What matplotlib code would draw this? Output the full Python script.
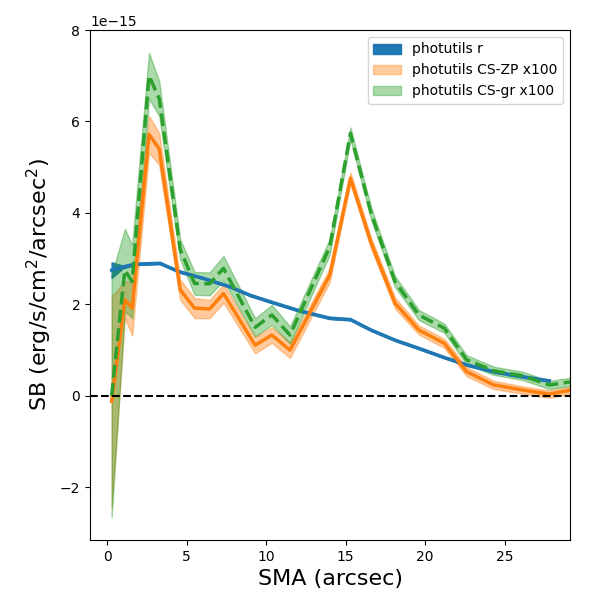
import numpy as np
import matplotlib
matplotlib.use('Agg')
import matplotlib.pyplot as plt

# photutils r profile (units of 1e-15)
sma_r = np.array([0.29, 1.0, 1.76, 3.33, 4.5, 6.06, 7.7, 9.0, 10.25, 12.1,
                  14.0, 15.3, 16.6, 18.1, 19.6, 21.2, 22.6, 24.3, 26.1, 27.8])
sb_r = np.array([2.75, 2.82, 2.88, 2.9, 2.72, 2.57, 2.39, 2.2, 2.06, 1.86,
                 1.70, 1.67, 1.44, 1.22, 1.04, 0.84, 0.68, 0.53, 0.42, 0.33])
err_r = np.array([0.17, 0.03, 0.02, 0.02, 0.02, 0.02, 0.02, 0.02, 0.02, 0.02,
                  0.02, 0.02, 0.02, 0.02, 0.02, 0.02, 0.02, 0.02, 0.02, 0.02])

# CS profiles x100
sma = np.array([0.29, 1.12, 1.58, 2.64, 3.28, 4.6, 5.5, 6.45, 7.32, 9.31, 10.36,
                11.5, 14.0, 15.3, 16.6, 18.1, 19.6, 21.2, 22.6, 24.3, 26.1, 27.8, 29.2])
sb_zp = np.array([-0.12, 2.1, 1.92, 5.72, 5.4, 2.32, 1.92, 1.9, 2.24, 1.11, 1.33,
                  1.0, 2.64, 4.76, 3.34, 2.03, 1.44, 1.15, 0.53, 0.24, 0.13, 0.04, 0.13])
err_zp = np.array([2.3, 0.4, 0.6, 0.4, 0.35, 0.22, 0.22, 0.2, 0.2, 0.18, 0.17,
                   0.17, 0.15, 0.12, 0.12, 0.12, 0.1, 0.1, 0.1, 0.09, 0.08, 0.08, 0.08])
sb_gr = np.array([0.0, 2.75, 2.5, 7.0, 6.5, 3.2, 2.46, 2.45, 2.79, 1.5, 1.77,
                  1.33, 3.26, 5.74, 3.99, 2.5, 1.77, 1.48, 0.79, 0.55, 0.44, 0.24, 0.31])
err_gr = np.array([2.65, 0.9, 0.8, 0.5, 0.38, 0.22, 0.25, 0.25, 0.27, 0.2, 0.22,
                   0.19, 0.17, 0.13, 0.13, 0.12, 0.11, 0.1, 0.1, 0.09, 0.09, 0.09, 0.09])

scale = 1e-15

fig, ax = plt.subplots(figsize=(6, 6), dpi=100)
fig.subplots_adjust(left=0.15, right=0.95, bottom=0.1, top=0.95)

ax.plot(sma_r, sb_r * scale, color='C0', lw=2.5)
ax.fill_between(sma_r, (sb_r - err_r) * scale, (sb_r + err_r) * scale,
                color='C0', alpha=1, label='photutils r')

ax.plot(sma, sb_zp * scale, color='C1', lw=2.5)
ax.fill_between(sma, (sb_zp - err_zp) * scale, (sb_zp + err_zp) * scale,
                color='C1', alpha=0.4, label='photutils CS-ZP x100')

ax.plot(sma, sb_gr * scale, color='C2', lw=2.5, ls='--')
ax.fill_between(sma, (sb_gr - err_gr) * scale, (sb_gr + err_gr) * scale,
                color='C2', alpha=0.4, label='photutils CS-gr x100')

ax.axhline(0, color='k', ls='--', lw=1.5)

ax.set_xlim(-1.07, 29.1)
ax.set_ylim(-3.15e-15, 8e-15)
ax.set_xlabel('SMA (arcsec)', fontsize=16)
ax.set_ylabel('SB (erg/s/cm$^2$/arcsec$^2$)', fontsize=16)
ax.legend(loc='upper right')

plt.savefig('out.png')
